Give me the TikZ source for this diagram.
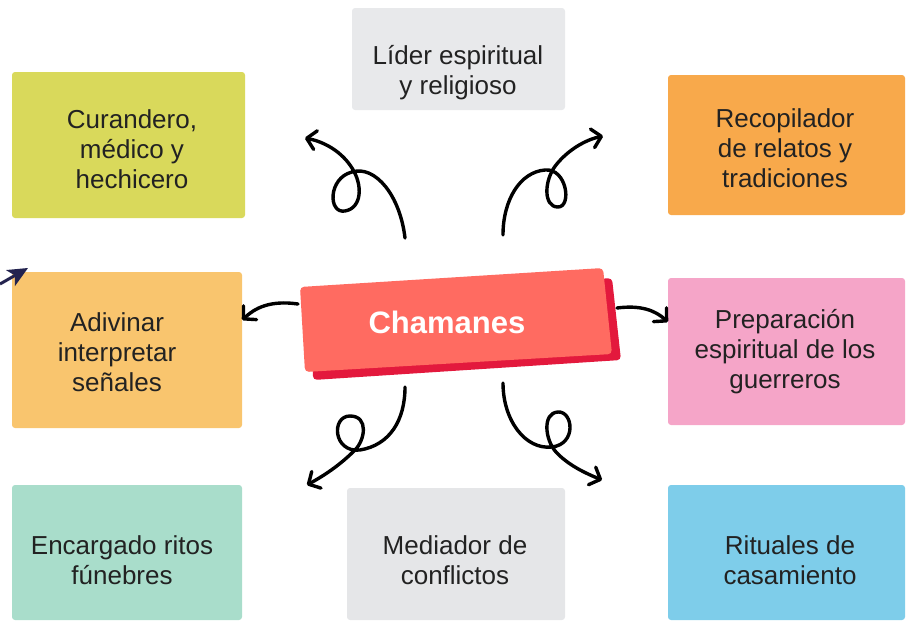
\documentclass[tikz,border=0pt]{standalone}
\usepackage{fontspec}
\setmainfont{Liberation Sans}
\usetikzlibrary{arrows.meta,calc}

\definecolor{curcol}{HTML}{D9D95B}
\definecolor{lidcol}{HTML}{E8E9EB}
\definecolor{reccol}{HTML}{F8A94B}
\definecolor{adicol}{HTML}{F9C56E}
\definecolor{chacol}{HTML}{FF6B61}
\definecolor{shacol}{HTML}{E3193D}
\definecolor{precol}{HTML}{F5A5C8}
\definecolor{enccol}{HTML}{A9DDCB}
\definecolor{medcol}{HTML}{E5E6E8}
\definecolor{ritcol}{HTML}{7ECDEA}
\definecolor{inkcol}{HTML}{222222}
\definecolor{navcol}{HTML}{23234F}

\tikzset{
  card/.style={fill=#1, rounded corners=3pt, inner sep=0pt},
  txt/.style={align=center, text=inkcol, font=\fontsize{26}{30}\selectfont},
  curl/.style={line width=3.4pt, line cap=round, draw=black,
    -{Straight Barb[length=9pt,width=19pt,round]}}
}

\begin{document}
\begin{tikzpicture}[x=1pt,y=-1pt]
\useasboundingbox (0,0) rectangle (911,629);

% cards
\node[card=curcol, minimum width=233pt, minimum height=146pt] (cur) at (128.5,145) {};
\node[card=lidcol, minimum width=213pt, minimum height=102pt] (lid) at (458.5,59) {};
\node[card=reccol, minimum width=237pt, minimum height=140pt] (rec) at (786.5,145) {};
\node[card=adicol, minimum width=230pt, minimum height=156pt] (adi) at (127,350) {};
\node[card=precol, minimum width=237pt, minimum height=147pt] (pre) at (786.5,351.5) {};
\node[card=enccol, minimum width=230pt, minimum height=135pt] (enc) at (127,552.5) {};
\node[card=medcol, minimum width=218pt, minimum height=132pt] (med) at (456,554) {};
\node[card=ritcol, minimum width=237pt, minimum height=135pt] (rit) at (786.5,552.5) {};

% texts
\node[txt] (cur-t) at (132,149) {Curandero,\\médico y\\hechicero};
\node[txt] (lid-t) at (458,73) {Líder espiritual\\y religioso};
\node[txt] (rec-t) at (785,148) {Recopilador\\de relatos y\\tradiciones};
\node[txt] (adi-t) at (117,352) {Adivinar\\interpretar\\señales};
\node[txt] (pre-t) at (785,352) {Preparación\\espiritual de los\\guerreros};
\node[txt] (enc-t) at (122,560) {Encargado ritos\\fúnebres};
\node[txt] (med-t) at (455,560) {Mediador de\\conflictos};
\node[txt] (rit-t) at (790,560) {Rituales de\\casamiento};

% centre
\fill[shacol, rounded corners=4pt] (312,300) -- (612,278) -- (621,360) -- (313,380) -- cycle;
\fill[chacol, rounded corners=4pt] (300,287) -- (603,268) -- (612,354) -- (305,372) -- cycle;
\node[text=white, font=\bfseries\fontsize{31}{36}\selectfont] (cha) at (447,322) {Chamanes};

% free ends
\coordinate (tl) at (305,138);
\coordinate (tr) at (603,136);
\coordinate (bl) at (307,485);
\coordinate (br) at (602,480);

% arrows
\draw[curl] ($(cha)+(-149,-18)$) .. controls (270,300) and (255,308) .. ($(adi.east)+(0,-30)$);
\draw[curl] ($(cha)+(170,-14)$) .. controls (640,305) and (655,310) .. ($(pre.west)+(0,-29.5)$);
\draw[curl] ($(cha)+(-42,-84)$) .. controls (400,195) and (375,165) .. (352,172)
  .. controls (328,178) and (328,214) .. (345,211)
  .. controls (362,208) and (363,185) .. (352,168)
  .. controls (342,152) and (325,142) .. (tl);
\draw[curl] ($(cha)+(56,-87)$) .. controls (503,200) and (520,172) .. (545,170)
  .. controls (567,168) and (572,207) .. (558,207)
  .. controls (543,207) and (544,180) .. (556,165)
  .. controls (568,150) and (585,140) .. (tr);
\draw[curl] ($(cha)+(-42,65)$) .. controls (405,420) and (390,445) .. (360,450)
  .. controls (333,453) and (331,416) .. (350,416)
  .. controls (369,416) and (365,440) .. (355,450)
  .. controls (340,465) and (325,475) .. (bl);
\draw[curl] ($(cha)+(56,61)$) .. controls (503,420) and (525,450) .. (552,447)
  .. controls (577,444) and (573,411) .. (558,412)
  .. controls (542,413) and (545,440) .. (556,452)
  .. controls (568,465) and (585,473) .. (br);

% stray pointer at the left
\coordinate (pt-a) at (0,284);
\coordinate (pt-b) at (28,268);
\draw[navcol, line width=3pt, -{Stealth[length=20pt,width=18pt,inset=5pt]}] (pt-a) -- (pt-b);
\end{tikzpicture}
\end{document}
